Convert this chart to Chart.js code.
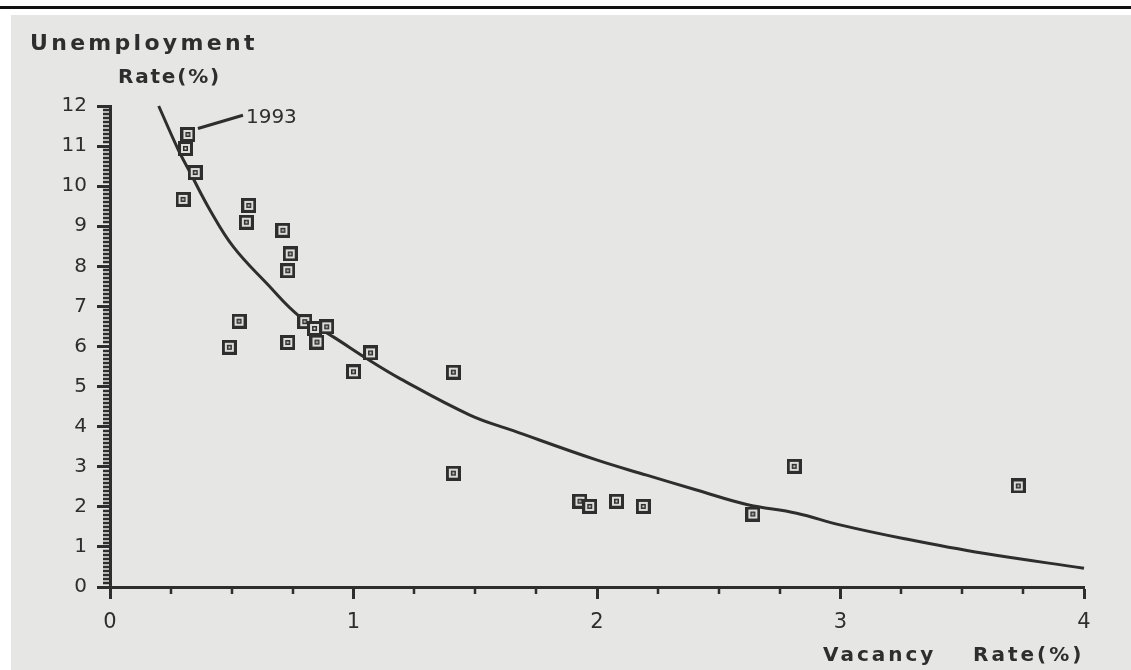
<!DOCTYPE html>
<html>
<head>
<meta charset="utf-8">
<script src="https://cdn.jsdelivr.net/npm/chart.js@4.4.1/dist/chart.umd.min.js"></script>
<style>
    html, body { margin: 0; padding: 0; background: #fff; }
    #wrap { position: relative; width: 1131px; height: 670px; overflow: hidden; }
    #topRule { position: absolute; left: 0; top: 6px; width: 1131px; height: 3px; background: #111; }
    #paper { position: absolute; left: 11px; top: 15px; right: 0; bottom: 0; background: #e6e6e4; }
    #chartBox { position: absolute; left: 0; top: 0; width: 1131px; height: 670px; }
</style>
</head>
<body>
<div id="wrap">
    <div id="topRule"></div>
    <div id="paper"></div>
    <div id="chartBox"><canvas id="myChart"></canvas></div>
</div>
<script>
// observed years: vacancy rate (%) vs unemployment rate (%)
const vacancyRate = [0.32, 0.31, 0.35, 0.30, 0.57, 0.56, 0.71, 0.74, 0.73, 0.53, 0.49,
    0.80, 0.84, 0.89, 0.73, 0.85, 1.07, 1.00, 1.41, 1.41, 1.93, 1.97, 2.08, 2.19, 2.64, 2.81, 3.73];
const unemploymentRate = [11.29, 10.94, 10.34, 9.67, 9.52, 9.10, 8.90, 8.31, 7.89, 6.63, 5.98,
    6.62, 6.45, 6.49, 6.10, 6.11, 5.84, 5.37, 5.36, 2.84, 2.14, 2.01, 2.14, 2.01, 1.82, 3.01, 2.52];

// fitted curve
const curveVacancy = [0.20, 0.281, 0.329, 0.411, 0.506, 0.644, 0.780, 0.917, 1.054, 1.191,
    1.478, 1.656, 1.998, 2.204, 2.409, 2.615, 2.820, 2.998, 3.258, 3.587, 4.00];
const curveUnemployment = [12.0, 10.90, 10.34, 9.40, 8.49, 7.57, 6.74, 6.24, 5.70, 5.20,
    4.29, 3.90, 3.17, 2.79, 2.42, 2.06, 1.84, 1.55, 1.21, 0.84, 0.47];

const xTickValues = [0, 1, 2, 3, 4];
const yTickValues = [0, 1, 2, 3, 4, 5, 6, 7, 8, 9, 10, 11, 12];
const xMinorStep = 0.25;
const yMinorStep = 0.1;

const yTitleLines = ['Unemployment', 'Rate(%)'];
const xTitleWords = ['Vacancy', 'Rate(%)'];
const noteText = '1993';
const noteIndex = 0;
const noteEnd = { x: 0.546, y: 11.77 };

window.addEventListener('DOMContentLoaded', () => {
    const ink = '#2e2e2e';
    const paper = '#dcdcda';

    // square-in-square marker like the printed symbol
    const marker = document.createElement('canvas');
    marker.width = 15;
    marker.height = 15;
    const g = marker.getContext('2d');
    g.fillStyle = ink; g.fillRect(0, 0, 15, 15);
    g.fillStyle = paper; g.fillRect(3, 3, 9, 9);
    g.fillStyle = ink; g.fillRect(5, 5, 5, 5);
    g.fillStyle = paper; g.fillRect(6.5, 6.5, 2, 2);

    const points = vacancyRate.map((v, i) => ({ x: v, y: unemploymentRate[i] }));
    const curve = curveVacancy.map((v, i) => ({ x: v, y: curveUnemployment[i] }));

    const paperText = {
        id: 'paperText',
        afterDraw(chart) {
            const { ctx, chartArea: a, scales: { x, y } } = chart;
            ctx.save();
            ctx.strokeStyle = ink;
            ctx.lineWidth = 2.5;
            // minor ticks
            ctx.beginPath();
            for (let k = 1; k * yMinorStep < 12; k++) {
                if (k % 10 === 0) continue;
                const py = Math.round(y.getPixelForValue(k * yMinorStep));
                ctx.moveTo(a.left - 7, py);
                ctx.lineTo(a.left, py);
            }
            for (let k = 1; k * xMinorStep < 4; k++) {
                if (k % 4 === 0) continue;
                const px = Math.round(x.getPixelForValue(k * xMinorStep));
                ctx.moveTo(px, a.bottom);
                ctx.lineTo(px, a.bottom + 7);
            }
            ctx.stroke();

            // 1993 note with leader
            const px0 = x.getPixelForValue(vacancyRate[noteIndex]);
            const py0 = y.getPixelForValue(unemploymentRate[noteIndex]);
            const ex = x.getPixelForValue(noteEnd.x);
            const ey = y.getPixelForValue(noteEnd.y);
            ctx.lineWidth = 3;
            ctx.beginPath();
            ctx.moveTo(px0 + 10, py0 - 6);
            ctx.lineTo(ex, ey);
            ctx.stroke();
            ctx.fillStyle = ink;
            ctx.textBaseline = 'alphabetic';
            ctx.textAlign = 'left';
            ctx.font = '20px "DejaVu Sans"';
            ctx.fillText(noteText, ex + 3, ey + 8);

            // axis titles
            ctx.font = 'bold 22px "DejaVu Sans"';
            ctx.letterSpacing = '3.3px';
            ctx.fillText(yTitleLines[0], a.left - 80, a.top - 56);
            ctx.font = 'bold 20px "DejaVu Sans"';
            ctx.letterSpacing = '1.8px';
            ctx.fillText(yTitleLines[1], a.left + 8, a.top - 23);
            ctx.letterSpacing = '3px';
            ctx.fillText(xTitleWords[0], a.right - 261, a.bottom + 74);
            ctx.fillText(xTitleWords[1], a.right - 111, a.bottom + 74);
            ctx.restore();
        }
    };

    const config = {
        type: 'scatter',
        data: {
            datasets: [{
                type: 'line',
                data: curve,
                borderColor: ink,
                borderWidth: 3,
                pointRadius: 0,
                fill: false,
                tension: 0.4,
                order: 2
            }, {
                data: points,
                pointStyle: marker,
                pointRadius: 7,
                order: 1
            }]
        },
        options: {
            responsive: true,
            maintainAspectRatio: false,
            animation: false,
            events: [],
            clip: false,
            layout: { padding: { left: 0, top: 106, right: 47, bottom: 0 } },
            plugins: { legend: { display: false }, tooltip: { enabled: false } },
            scales: {
                x: {
                    type: 'linear',
                    min: 0,
                    max: 4,
                    afterBuildTicks: s => { s.ticks = xTickValues.map(v => ({ value: v })); },
                    afterFit: s => { s.height = 83; },
                    grid: { drawOnChartArea: false, tickLength: 12, tickWidth: 3, tickColor: ink },
                    border: { color: ink, width: 3 },
                    ticks: { color: ink, padding: 11, maxRotation: 0, font: { family: 'DejaVu Sans', size: 21 } }
                },
                y: {
                    type: 'linear',
                    min: 0,
                    max: 12,
                    afterBuildTicks: s => { s.ticks = yTickValues.map(v => ({ value: v })); },
                    afterFit: s => { s.width = 110; },
                    grid: { drawOnChartArea: false, tickLength: 13, tickWidth: 3, tickColor: ink },
                    border: { color: ink, width: 3 },
                    ticks: { color: ink, padding: 10, font: { family: 'DejaVu Sans', size: 20 } }
                }
            }
        },
        plugins: [paperText]
    };

    new Chart(document.getElementById('myChart'), config);
});
</script>
</body>
</html>
